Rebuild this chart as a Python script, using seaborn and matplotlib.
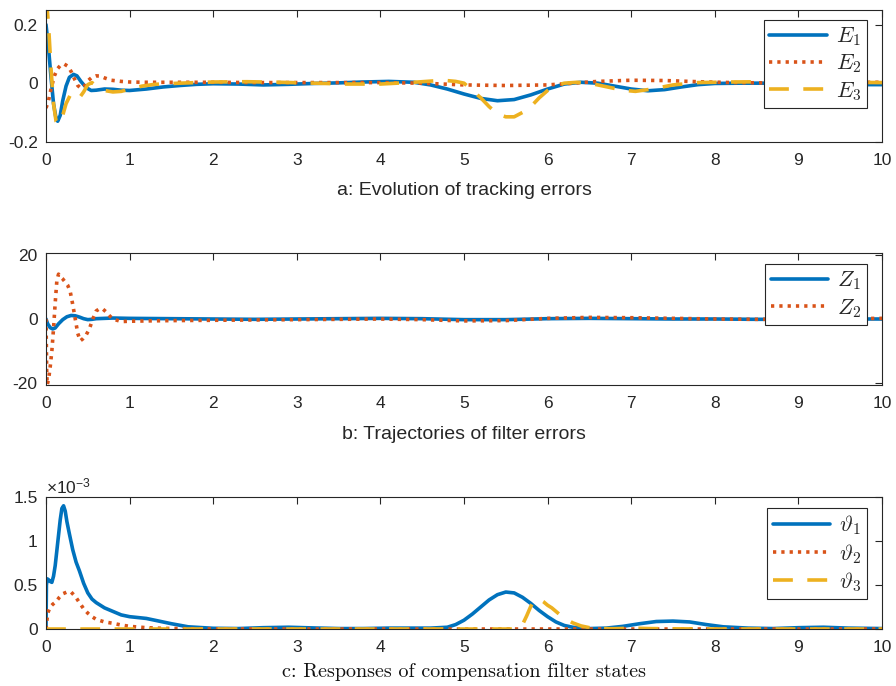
import matplotlib
matplotlib.use("Agg")
import matplotlib.pyplot as plt
from matplotlib.ticker import FuncFormatter
import numpy as np
import seaborn as sns

# ---------------- data ----------------
# a: tracking errors
t_e1 = [0, 0.03, 0.06, 0.09, 0.12, 0.14, 0.17, 0.2, 0.24, 0.28, 0.33, 0.37, 0.42, 0.48,
        0.54, 0.6, 0.7, 0.8, 0.9, 1.0, 1.2, 1.4, 1.6, 1.8, 2.0, 2.3, 2.6, 2.9, 3.2, 3.5,
        3.8, 4.1, 4.4, 4.6, 4.8, 5.0, 5.2, 5.4, 5.6, 5.8, 6.0, 6.2, 6.4, 6.6, 6.8, 7.0,
        7.2, 7.4, 7.6, 7.8, 8.0, 8.3, 8.6, 9.0, 9.4, 9.8, 10.0]
e1 = [0.2, 0.12, 0.02, -0.07, -0.12, -0.13, -0.11, -0.06, -0.01, 0.02, 0.03, 0.025,
      0.005, -0.015, -0.025, -0.024, -0.02, -0.021, -0.024, -0.025, -0.02, -0.013,
      -0.008, -0.004, -0.002, -0.003, -0.006, -0.004, -0.001, 0.001, 0.004, 0.006,
      0.003, -0.006, -0.02, -0.037, -0.052, -0.06, -0.056, -0.04, -0.02, -0.003, 0.003,
      0.0, -0.01, -0.02, -0.026, -0.022, -0.013, -0.005, -0.001, 0.0, 0.0, -0.002,
      -0.004, -0.005, -0.005]

t_e2 = [0, 0.03, 0.06, 0.1, 0.14, 0.18, 0.22, 0.26, 0.3, 0.34, 0.38, 0.42, 0.46, 0.5,
        0.55, 0.6, 0.65, 0.7, 0.78, 0.9, 1.0, 1.2, 1.5, 2.0, 2.5, 3.0, 3.5, 4.0, 4.5,
        5.0, 5.5, 6.0, 6.3, 6.6, 7.0, 7.4, 7.8, 8.2, 8.6, 9.0, 9.5, 10]
e2 = [-0.085, -0.06, -0.02, 0.025, 0.05, 0.063, 0.065, 0.058, 0.04, 0.015, -0.008,
      -0.018, -0.01, 0.008, 0.02, 0.025, 0.024, 0.018, 0.01, 0.006, 0.004, 0.003,
      0.003, 0.003, 0.002, 0.002, 0.002, 0.002, 0.0, -0.006, -0.008, -0.006, 0.0,
      0.006, 0.01, 0.009, 0.005, 0.002, 0.001, 0.002, 0.003, 0.003]

t_e3 = [0, 0.03, 0.06, 0.09, 0.12, 0.15, 0.19, 0.24, 0.3, 0.35, 0.4, 0.45, 0.5, 0.55,
        0.6, 0.7, 0.8, 0.9, 1.0, 1.15, 1.3, 1.6, 2.0, 2.4, 2.8, 3.2, 3.6, 4.0, 4.4,
        4.75, 4.9, 5.0, 5.1, 5.2, 5.3, 5.4, 5.5, 5.6, 5.7, 5.8, 5.9, 6.0, 6.1, 6.2,
        6.35, 6.5, 6.7, 6.9, 7.05, 7.25, 7.5, 7.8, 8.2, 8.6, 9.0, 9.5, 10]
e3 = [0.3, 0.2, 0.05, -0.07, -0.13, -0.14, -0.12, -0.07, -0.035, -0.045, -0.05, -0.03,
      -0.005, 0.002, -0.01, -0.025, -0.03, -0.028, -0.02, -0.01, -0.004, 0.0, 0.004,
      0.005, 0.003, 0.0, -0.003, -0.003, 0.003, 0.01, 0.006, 0.0, -0.025, -0.05,
      -0.08, -0.105, -0.115, -0.115, -0.1, -0.08, -0.05, -0.025, -0.008, 0.0, 0.003,
      0.0, -0.012, -0.024, -0.028, -0.02, -0.006, 0.002, 0.004, 0.005, 0.005, 0.003,
      0.002]

# b: filter errors
t_z1 = [0, 0.02, 0.05, 0.08, 0.11, 0.15, 0.2, 0.25, 0.3, 0.35, 0.4, 0.45, 0.5, 0.55,
        0.6, 0.7, 0.8, 1.0, 1.5, 2.0, 2.5, 3, 3.5, 4, 4.5, 5, 5.5, 6, 6.5, 7, 7.5, 8,
        8.5, 9, 9.5, 10]
z1 = [0, -1.5, -2.7, -3.1, -2.8, -1.5, -0.2, 0.7, 1.1, 1.0, 0.6, 0.1, -0.2, -0.1, 0.1,
      0.2, 0.3, 0.2, 0.1, 0.0, -0.1, 0.0, 0.1, 0.2, 0.1, -0.2, -0.2, 0.1, 0.2, 0.1, 0.0,
      0.0, -0.1, -0.1, 0.0, 0.0]

t_z2 = [0, 0.004, 0.008, 0.014, 0.03, 0.05, 0.07, 0.09, 0.11, 0.13, 0.15, 0.17, 0.2,
        0.23, 0.26, 0.29, 0.32, 0.35, 0.38, 0.41, 0.44, 0.48, 0.52, 0.56, 0.6, 0.64,
        0.68, 0.72, 0.76, 0.8, 0.9, 1.0, 1.2, 1.5, 2.0, 2.5, 3, 3.5, 4, 4.5, 5, 5.5, 6,
        6.5, 7, 7.5, 8, 8.5, 9, 9.5, 10]
z2 = [0, -8, -16, -20.5, -19, -15, -10, -3, 5, 12, 14, 13.2, 12.5, 11.5, 10.5, 8.5,
      4.5, 0, -4.5, -6.8, -6.2, -5, -3, 0, 2.5, 3.2, 3.1, 2.2, 1.0, 0.0, -0.8, -0.7,
      -0.6, -0.5, -0.4, -0.3, -0.2, -0.1, 0.0, -0.2, -0.6, -0.5, 0.2, 0.5, 0.4, 0.2,
      0.0, -0.1, 0.0, 0.1, 0.2]

# c: compensation filter states
t_v1 = [0, 0.005, 0.015, 0.03, 0.05, 0.07, 0.09, 0.11, 0.14, 0.17, 0.19, 0.21, 0.23,
        0.25, 0.28, 0.32, 0.36, 0.4, 0.45, 0.5, 0.55, 0.6, 0.7, 0.8, 0.9, 1.0, 1.1, 1.2,
        1.35, 1.5, 1.7, 2.0, 2.3, 2.6, 2.9, 3.2, 3.5, 3.8, 4.1, 4.4, 4.6, 4.8, 4.9, 5.0,
        5.1, 5.2, 5.3, 5.4, 5.5, 5.6, 5.7, 5.8, 5.9, 6.0, 6.1, 6.2, 6.3, 6.4, 6.5, 6.7,
        6.9, 7.1, 7.3, 7.5, 7.7, 7.9, 8.1, 8.4, 8.7, 9.0, 9.3, 9.6, 10]
v1 = [0, 0.5e-3, 0.57e-3, 0.56e-3, 0.54e-3, 0.53e-3, 0.6e-3, 0.72e-3, 0.98e-3,
      1.24e-3, 1.37e-3, 1.4e-3, 1.34e-3, 1.22e-3, 1.08e-3, 0.9e-3, 0.76e-3, 0.66e-3,
      0.52e-3, 0.41e-3, 0.34e-3, 0.3e-3, 0.24e-3, 0.2e-3, 0.16e-3, 0.14e-3, 0.13e-3,
      0.12e-3, 0.09e-3, 0.06e-3, 0.025e-3, 0.008e-3, 0.005e-3, 0.015e-3, 0.02e-3,
      0.012e-3, 0.005e-3, 0.005e-3, 0.01e-3, 0.01e-3, 0.01e-3, 0.02e-3, 0.05e-3,
      0.1e-3, 0.17e-3, 0.25e-3, 0.33e-3, 0.39e-3, 0.42e-3, 0.41e-3, 0.36e-3, 0.29e-3,
      0.21e-3, 0.14e-3, 0.08e-3, 0.04e-3, 0.02e-3, 0.01e-3, 0.005e-3, 0.01e-3,
      0.03e-3, 0.06e-3, 0.085e-3, 0.09e-3, 0.08e-3, 0.05e-3, 0.025e-3, 0.01e-3,
      0.005e-3, 0.015e-3, 0.02e-3, 0.01e-3, 0.005e-3]

t_v2 = [0, 0.02, 0.05, 0.08, 0.12, 0.16, 0.2, 0.25, 0.3, 0.35, 0.4, 0.45, 0.5, 0.55,
        0.6, 0.7, 0.8, 0.9, 1.0, 1.2, 1.4, 1.7, 2.0, 3, 4, 5, 6, 7, 8, 9, 10]
v2 = [0, 0.18e-3, 0.25e-3, 0.28e-3, 0.31e-3, 0.36e-3, 0.4e-3, 0.42e-3, 0.42e-3,
      0.37e-3, 0.3e-3, 0.23e-3, 0.18e-3, 0.14e-3, 0.11e-3, 0.08e-3, 0.065e-3,
      0.045e-3, 0.03e-3, 0.015e-3, 0.007e-3, 0.003e-3, 0.001e-3, 0, 0, 0, 0, 0, 0, 0, 0]

t_v3 = [0, 1, 2, 3, 4, 5, 5.5, 5.6, 5.65, 5.7, 5.75, 5.8, 5.85, 5.9, 5.95, 6.0, 6.05,
        6.1, 6.15, 6.2, 6.3, 6.4, 6.5, 6.6, 6.8, 7.0, 7.2, 7.5, 8, 9, 10]
v3 = [0, 0, 0, 0, 0, 0, 0, 0.0, 0.01e-3, 0.05e-3, 0.15e-3, 0.26e-3, 0.33e-3, 0.34e-3,
      0.31e-3, 0.27e-3, 0.24e-3, 0.2e-3, 0.16e-3, 0.125e-3, 0.07e-3, 0.035e-3,
      0.015e-3, 0.005e-3, 0.003e-3, 0.01e-3, 0.005e-3, 0.002e-3, 0, 0, 0]

x_ticks = list(range(0, 11))
a_yticks = [-0.2, 0, 0.2]
b_yticks = [-20, 0, 20]
c_yticks = [0, 0.5e-3, 1e-3, 1.5e-3]

labels_a = [r"$E_1$", r"$E_2$", r"$E_3$"]
labels_b = [r"$Z_1$", r"$Z_2$"]
labels_c = [r"$\vartheta_1$", r"$\vartheta_2$", r"$\vartheta_3$"]

# ---------------- style ----------------
sns.set_theme(style="white")
plt.rcParams["font.family"] = ["Liberation Sans", "DejaVu Sans"]
plt.rcParams["mathtext.fontset"] = "cm"
plt.rcParams["axes.unicode_minus"] = False

BLUE, ORANGE, YELLOW = "#0072BD", "#D95319", "#EDB120"
AX_COL = "#262626"
LW = 2.6
styles = [
    dict(color=BLUE, linestyle="-"),
    dict(color=ORANGE, linestyle=(0, (0.9, 1.4))),
    dict(color=YELLOW, linestyle=(0, (5.5, 4.0))),
]

fig = plt.figure(figsize=(8.96, 6.86), dpi=100)
W = 896.0
H = 686.0


def make_axes(top_px, bottom_px):
    return fig.add_axes([46 / W, 1 - bottom_px / H, (882 - 46) / W, (bottom_px - top_px) / H])


def style_axes(ax, yticks, ylim, fmt):
    ax.set_xlim(0, 10)
    ax.set_ylim(*ylim)
    ax.set_xticks(x_ticks)
    ax.set_yticks(yticks)
    ax.yaxis.set_major_formatter(FuncFormatter(fmt))
    ax.xaxis.set_major_formatter(FuncFormatter(lambda v, p: f"{v:g}"))
    ax.tick_params(direction="in", length=5, width=0.8, colors=AX_COL,
                   labelsize=12.5, top=True, right=True, pad=6)
    ax.tick_params(axis="x", pad=8)
    for s in ax.spines.values():
        s.set_color(AX_COL)
        s.set_linewidth(0.8)


def add_legend(ax, top_frac):
    leg = ax.legend(loc="upper right", bbox_to_anchor=(0.982, top_frac),
                    borderaxespad=0, fontsize=16, frameon=True, fancybox=False,
                    edgecolor=AX_COL, framealpha=1, handlelength=2.6,
                    handletextpad=0.4, labelspacing=0.2, borderpad=0.25)
    leg.get_frame().set_linewidth(0.8)
    return leg


fmt_g = lambda v, p: f"{v:g}"

# a
ax_a = make_axes(10, 141.7)
for (t, v), lab, st in zip([(t_e1, e1), (t_e2, e2), (t_e3, e3)], labels_a, styles):
    sns.lineplot(x=t, y=v, ax=ax_a, label=lab, lw=LW, estimator=None, sort=False, **st)
style_axes(ax_a, a_yticks, (-0.2, 0.25), fmt_g)
ax_a.set_xlabel("a: Evolution of tracking errors", fontsize=14, color=AX_COL, labelpad=10)
ax_a.set_ylabel("")
add_legend(ax_a, 0.925)

# b
ax_b = make_axes(253, 385)
for (t, v), lab, st in zip([(t_z1, z1), (t_z2, z2)], labels_b, styles):
    sns.lineplot(x=t, y=v, ax=ax_b, label=lab, lw=LW, estimator=None, sort=False, **st)
style_axes(ax_b, b_yticks, (-20.6, 20.6), fmt_g)
ax_b.set_xlabel("b: Trajectories of filter errors", fontsize=14, color=AX_COL, labelpad=11)
ax_b.set_ylabel("")
add_legend(ax_b, 0.917)

# c
ax_c = make_axes(497, 629)
for (t, v), lab, st in zip([(t_v1, v1), (t_v2, v2), (t_v3, v3)], labels_c, styles):
    sns.lineplot(x=t, y=v, ax=ax_c, label=lab, lw=LW, estimator=None, sort=False, **st)
style_axes(ax_c, c_yticks, (0, 1.5e-3), lambda v, p: f"{v * 1e3:g}")
ax_c.set_xlabel("c: Responses of compensation filter states", fontsize=14.5,
                fontfamily="cmr10", color="#111111", labelpad=6)
ax_c.set_ylabel("")
ax_c.text(0.0, 1.005, r"$\mathregular{\times10^{-3}}$", transform=ax_c.transAxes,
          ha="left", va="bottom", fontsize=12.5, color=AX_COL)
add_legend(ax_c, 0.917)

fig.savefig("out.png", dpi=100)
